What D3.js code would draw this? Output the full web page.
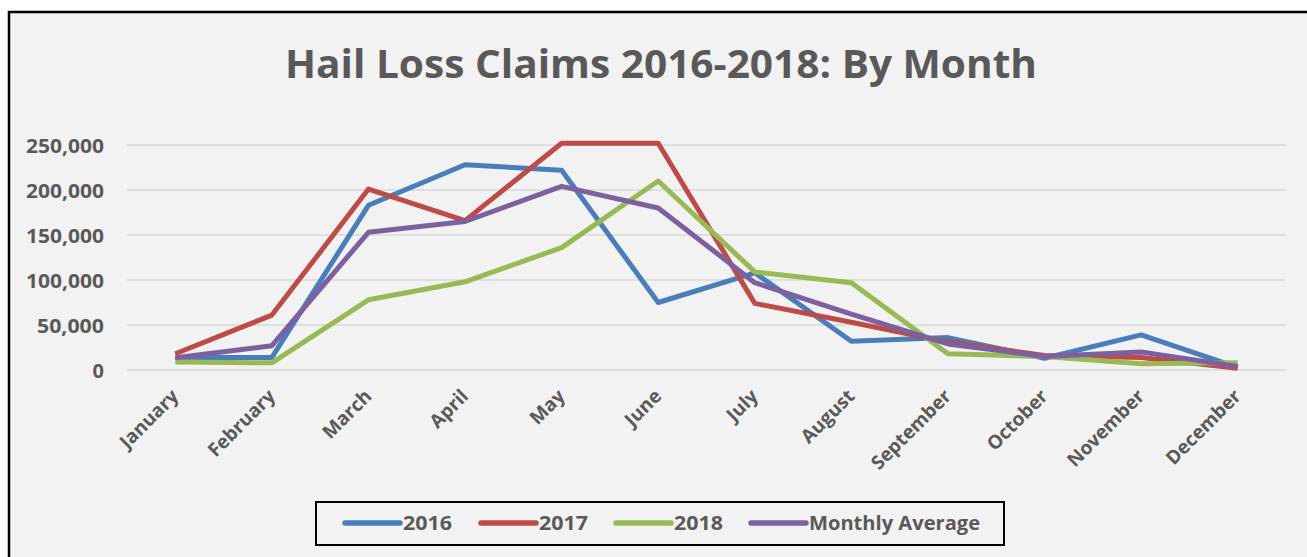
<!DOCTYPE html>
<html>
<head>
<meta charset="utf-8">
<script src="https://cdn.jsdelivr.net/npm/d3@7"></script>
<style>
  body { margin: 0; background: #fff; }
  svg text { font-family: "Open Sans", "Noto Sans", sans-serif; font-weight: bold; fill: #595959; }
</style>
</head>
<body>
<svg id="chart" width="1307" height="557"></svg>
<script>
// months on the x axis
var months = ["January", "February", "March", "April", "May", "June",
  "July", "August", "September", "October", "November", "December"];

// claims per month
var claims2016 = [14000, 14000, 183000, 228000, 222000, 75000, 108000, 32000, 36000, 13000, 39000, 3000];
var claims2017 = [18000, 61000, 201000, 166000, 252000, 252000, 74000, 53000, 31000, 16000, 14000, 2000];
var claims2018 = [9000, 8000, 78000, 98000, 136000, 210000, 109000, 97000, 18000, 15000, 7000, 8000];
var monthlyAvg = [13500, 27000, 153000, 165000, 204000, 180000, 97000, 62000, 29000, 15000, 20000, 4000];

var yTicks = [0, 50000, 100000, 150000, 200000, 250000];

var seriesNames = ["2016", "2017", "2018", "Monthly Average"];
var seriesColors = ["#4a7ebb", "#be4b48", "#98b954", "#7d60a0"];
var seriesValues = [claims2016, claims2017, claims2018, monthlyAvg];

var svg = d3.select("#chart");

// chart area frame
svg.append("rect")
  .attr("x", 9).attr("y", 12)
  .attr("width", 1310).attr("height", 560)
  .attr("fill", "#f2f2f2")
  .attr("stroke", "#000").attr("stroke-width", 2.5);

svg.append("text")
  .attr("x", 661).attr("y", 78)
  .attr("text-anchor", "middle")
  .attr("font-size", 40)
  .attr("textLength", 752).attr("lengthAdjust", "spacingAndGlyphs")
  .text("Hail Loss Claims 2016-2018: By Month");

var x = d3.scaleBand().domain(months).range([127, 1286]);
var y = d3.scaleLinear().domain([0, 250000]).range([370, 145]);

// gridlines
svg.append("g").selectAll("line")
  .data(yTicks)
  .enter().append("line")
    .attr("x1", 127).attr("x2", 1286)
    .attr("y1", function(d) { return y(d); })
    .attr("y2", function(d) { return y(d); })
    .attr("stroke", "#d9d9d9").attr("stroke-width", 1.5);

// y axis labels
var yAxis = d3.axisLeft(y).tickValues(yTicks).tickSize(0).tickPadding(0)
  .tickFormat(d3.format(","));
var yg = svg.append("g").attr("transform", "translate(104,0)").call(yAxis);
yg.select(".domain").remove();
yg.selectAll("text")
  .attr("font-size", 20).attr("dy", "0.35em")
  .attr("font-family", null).attr("fill", null)
  .attr("textLength", function(d) { return d === 0 ? null : (d >= 100000 ? 78 : 67); })
  .attr("lengthAdjust", "spacingAndGlyphs");

// x axis labels
var xAxis = d3.axisBottom(x).tickSize(0).tickPadding(0);
var xg = svg.append("g").attr("transform", "translate(0,388)").call(xAxis);
xg.select(".domain").remove();
xg.selectAll("text")
  .attr("font-size", 19)
  .attr("font-family", null).attr("fill", null)
  .attr("text-anchor", "end")
  .attr("dy", "0.7em")
  .attr("transform", "translate(-5,0) rotate(-45)");

var line = d3.line()
  .x(function(d, i) { return x(months[i]) + x.bandwidth() / 2; })
  .y(function(d) { return y(d); });

svg.append("g").selectAll("path")
  .data(seriesValues)
  .enter().append("path")
    .attr("d", line)
    .attr("fill", "none")
    .attr("stroke", function(d, i) { return seriesColors[i]; })
    .attr("stroke-width", 5)
    .attr("stroke-linejoin", "round");

// legend
var legend = svg.append("g");
legend.append("rect")
  .attr("x", 316).attr("y", 502)
  .attr("width", 688).attr("height", 43)
  .attr("fill", "none").attr("stroke", "#000").attr("stroke-width", 2);

var legendX = [345, 481, 616, 751];
var item = legend.selectAll("g.item")
  .data(seriesNames)
  .enter().append("g")
    .attr("class", "item")
    .attr("transform", function(d, i) { return "translate(" + legendX[i] + ",523)"; });
item.append("line")
  .attr("x1", 0).attr("x2", 55)
  .attr("stroke", function(d, i) { return seriesColors[i]; })
  .attr("stroke-width", 5.5).attr("stroke-linecap", "round");
item.append("text")
  .attr("x", 58).attr("dy", "0.35em")
  .attr("font-size", 20)
  .attr("textLength", function(d) { return d.length > 4 ? 171 : 49; })
  .attr("lengthAdjust", "spacingAndGlyphs")
  .text(function(d) { return d; });
</script>
</body>
</html>
